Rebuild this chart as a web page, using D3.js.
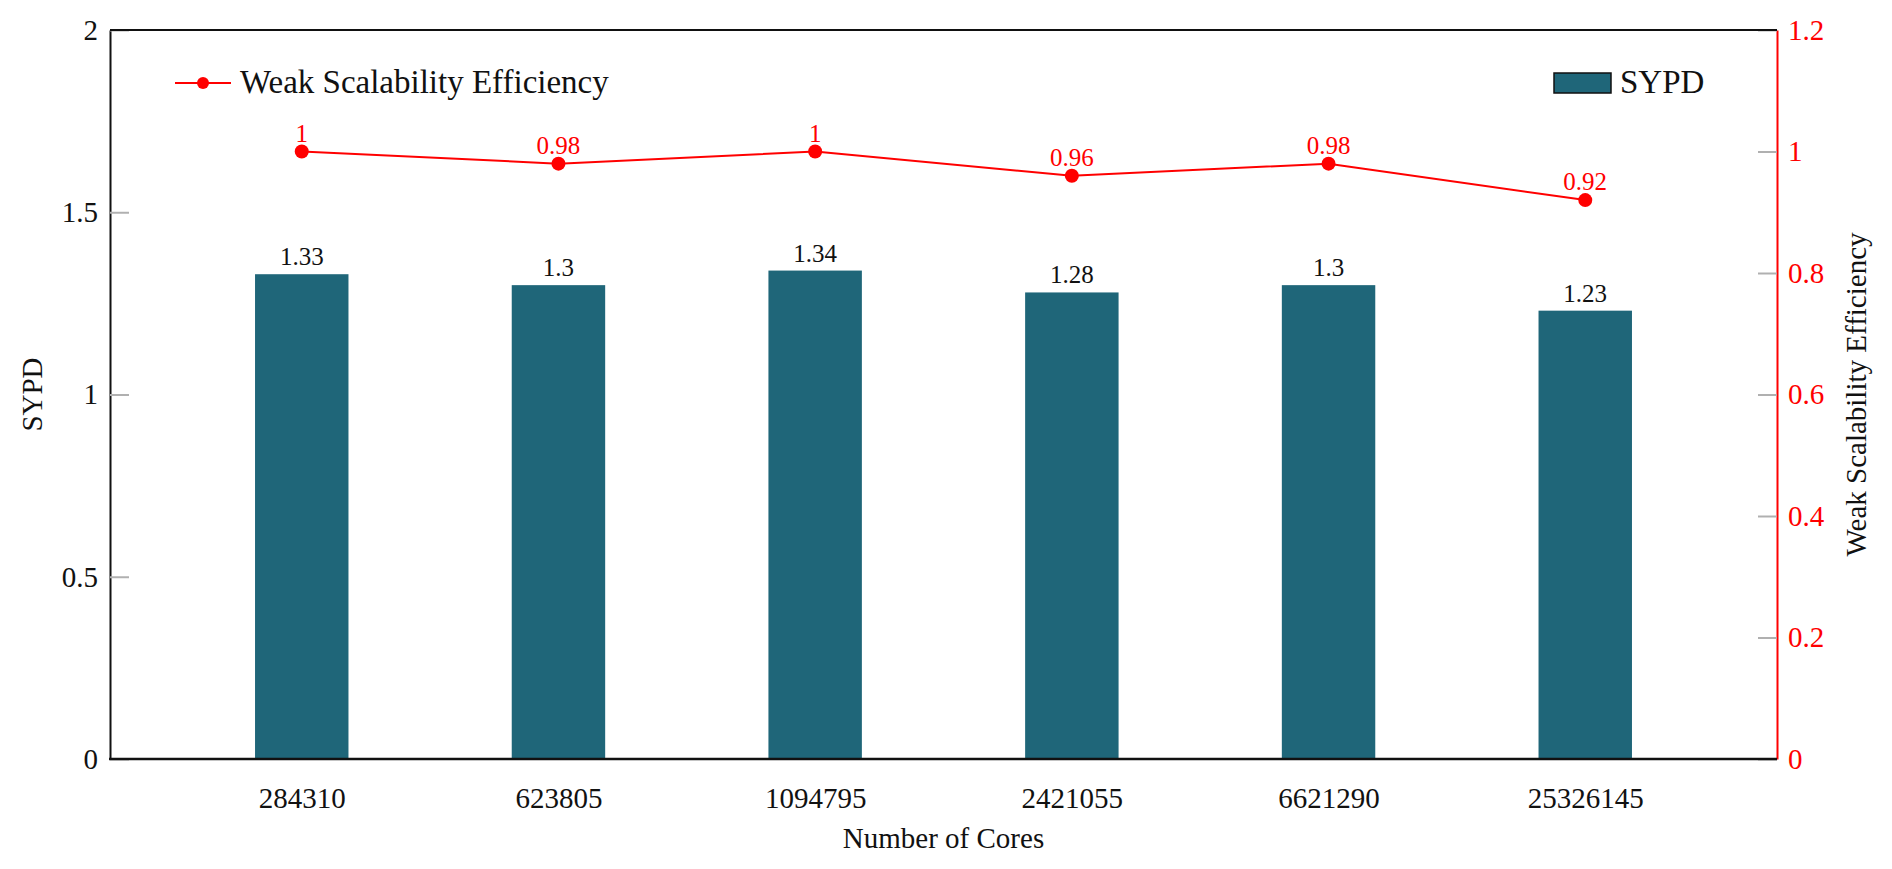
<!DOCTYPE html>
<html>
<head>
<meta charset="utf-8">
<script src="https://cdn.jsdelivr.net/npm/d3@7"></script>
<style>
  body { margin: 0; background: #fff; }
  text { font-family: "Liberation Serif", "Times New Roman", serif; }
</style>
</head>
<body>
<svg id="chart"></svg>
<script>
const cores = ['284310', '623805', '1094795', '2421055', '6621290', '25326145'];
const sypd = [1.33, 1.3, 1.34, 1.28, 1.3, 1.23];
const efficiency = [1, 0.98, 1, 0.96, 0.98, 0.92];
const sypdTicks = [0, 0.5, 1, 1.5, 2];
const effTicks = [0, 0.2, 0.4, 0.6, 0.8, 1, 1.2];

const width = 1892, height = 869;
const plotL = 110, plotR = 1777, plotT = 30, plotB = 759;
const barColor = '#1f6679';
const serif = '"Liberation Serif", "Times New Roman", serif';

const svg = d3.select('#chart')
  .attr('width', width)
  .attr('height', height)
  .style('background', '#fff');

const x = d3.scalePoint()
  .domain(cores)
  .range([plotL, plotR])
  .padding(0.747);

const barW = x.step() * 0.364;

const yL = d3.scaleLinear().domain([0, 2]).range([plotB, plotT]);
const yR = d3.scaleLinear().domain([0, 1.2]).range([plotB, plotT]);

// bars
svg.selectAll('rect.bar')
  .data(sypd)
  .enter()
  .append('rect')
  .attr('class', 'bar')
  .attr('x', (d, i) => x(cores[i]) - barW / 2)
  .attr('y', d => yL(d))
  .attr('width', barW)
  .attr('height', d => plotB - yL(d))
  .attr('fill', barColor);

svg.selectAll('text.barlabel')
  .data(sypd)
  .enter()
  .append('text')
  .attr('class', 'barlabel')
  .attr('x', (d, i) => x(cores[i]))
  .attr('y', d => yL(d) - 9)
  .attr('text-anchor', 'middle')
  .attr('font-family', serif)
  .attr('font-size', '25px')
  .attr('fill', '#111')
  .text(d => d);

// left axis
const axL = svg.append('g')
  .attr('transform', `translate(${plotL},0)`)
  .call(d3.axisLeft(yL).tickValues(sypdTicks).tickFormat(d3.format('~g'))
    .tickSize(-19).tickSizeOuter(0).tickPadding(12));
axL.selectAll('.tick line').attr('stroke', '#b0b0b0').attr('stroke-width', 2);
axL.selectAll('.tick text').attr('font-size', '29px').attr('fill', '#111')
  .attr('font-family', serif);
axL.select('.domain').attr('stroke', '#111').attr('stroke-width', 2);

// right axis
const axR = svg.append('g')
  .attr('transform', `translate(${plotR},0)`)
  .call(d3.axisRight(yR).tickValues(effTicks).tickFormat(d3.format('~g'))
    .tickSize(-19).tickSizeOuter(0).tickPadding(11));
axR.selectAll('.tick line').attr('stroke', '#b0b0b0').attr('stroke-width', 2);
axR.selectAll('.tick text').attr('font-size', '29px').attr('fill', 'red')
  .attr('font-family', serif);
axR.select('.domain').attr('stroke', 'red').attr('stroke-width', 2);

// bottom axis
const axB = svg.append('g')
  .attr('transform', `translate(0,${plotB})`)
  .call(d3.axisBottom(x).tickSize(0).tickPadding(28));
axB.select('.domain').remove();
axB.selectAll('.tick text').attr('font-size', '29px').attr('fill', '#111')
  .attr('font-family', serif);

// frame lines
svg.append('line')
  .attr('x1', plotL).attr('x2', plotR).attr('y1', plotT).attr('y2', plotT)
  .attr('stroke', '#111').attr('stroke-width', 2);
svg.append('line')
  .attr('x1', plotL - 1).attr('x2', plotR).attr('y1', plotB).attr('y2', plotB)
  .attr('stroke', '#111').attr('stroke-width', 2.5);

// efficiency line
const line = d3.line()
  .x((d, i) => x(cores[i]))
  .y(d => yR(d));

svg.append('path')
  .datum(efficiency)
  .attr('d', line)
  .attr('fill', 'none')
  .attr('stroke', 'red')
  .attr('stroke-width', 2);

svg.selectAll('circle.pt')
  .data(efficiency)
  .enter()
  .append('circle')
  .attr('class', 'pt')
  .attr('cx', (d, i) => x(cores[i]))
  .attr('cy', d => yR(d))
  .attr('r', 7)
  .attr('fill', 'red');

svg.selectAll('text.efflabel')
  .data(efficiency)
  .enter()
  .append('text')
  .attr('class', 'efflabel')
  .attr('x', (d, i) => x(cores[i]))
  .attr('y', d => yR(d) - 10)
  .attr('text-anchor', 'middle')
  .attr('font-family', serif)
  .attr('font-size', '25px')
  .attr('fill', 'red')
  .text(d => d);

// axis titles
svg.append('text')
  .attr('transform', `translate(42,${(plotT + plotB) / 2}) rotate(-90)`)
  .attr('text-anchor', 'middle')
  .attr('font-family', serif)
  .attr('font-size', '29px')
  .attr('fill', '#111')
  .text('SYPD');

svg.append('text')
  .attr('transform', `translate(1866,${(plotT + plotB) / 2}) rotate(-90)`)
  .attr('text-anchor', 'middle')
  .attr('font-family', serif)
  .attr('font-size', '29px')
  .attr('fill', '#111')
  .text('Weak Scalability Efficiency');

svg.append('text')
  .attr('x', (plotL + plotR) / 2)
  .attr('y', 848)
  .attr('text-anchor', 'middle')
  .attr('font-family', serif)
  .attr('font-size', '29px')
  .attr('fill', '#111')
  .text('Number of Cores');

// legends
svg.append('line')
  .attr('x1', 175).attr('x2', 231).attr('y1', 83).attr('y2', 83)
  .attr('stroke', 'red').attr('stroke-width', 2);
svg.append('circle')
  .attr('cx', 203).attr('cy', 83).attr('r', 6).attr('fill', 'red');
svg.append('text')
  .attr('x', 240).attr('y', 93)
  .attr('font-family', serif)
  .attr('font-size', '33px')
  .attr('fill', '#111')
  .text('Weak Scalability Efficiency');

svg.append('rect')
  .attr('x', 1554).attr('y', 73).attr('width', 57).attr('height', 20)
  .attr('fill', barColor).attr('stroke', '#111').attr('stroke-width', 1.5);
svg.append('text')
  .attr('x', 1620).attr('y', 93)
  .attr('font-family', serif)
  .attr('font-size', '33px')
  .attr('fill', '#111')
  .text('SYPD');
</script>
</body>
</html>
